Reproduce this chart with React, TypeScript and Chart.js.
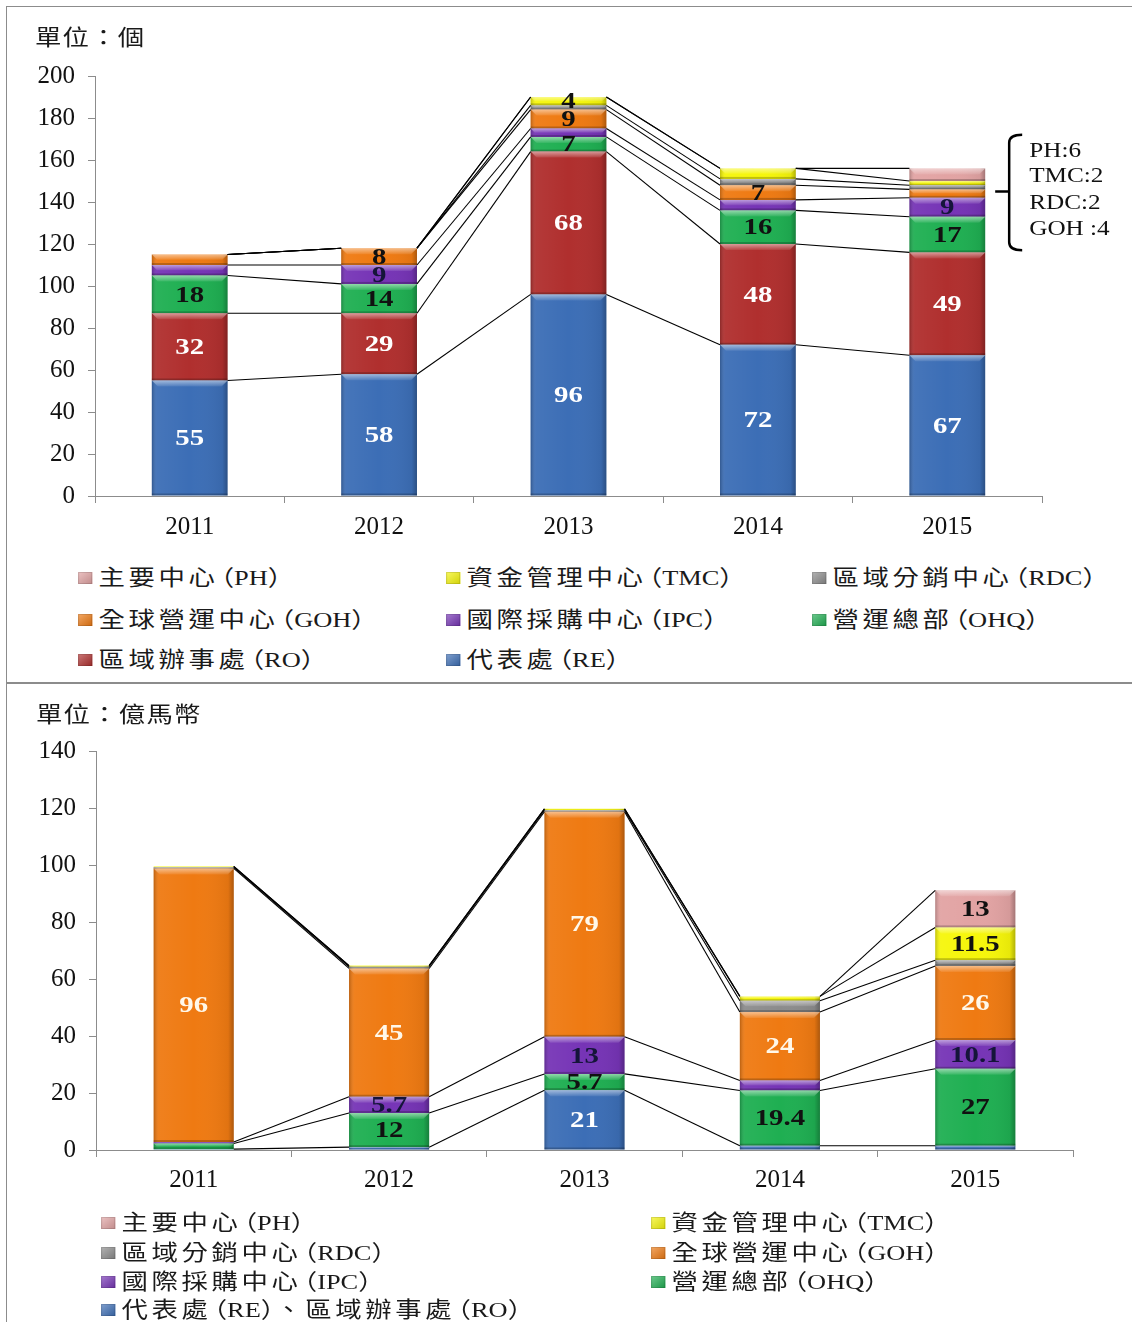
import React, { useEffect, useRef } from "react";
import { Chart, registerables } from "chart.js";

Chart.register(...registerables);

// ---------------- data ----------------
const years = ["2011", "2012", "2013", "2014", "2015"];

// Top chart (單位：個)
const countTicks = [0, 20, 40, 60, 80, 100, 120, 140, 160, 180, 200];
const countRE = [55, 58, 96, 72, 67];
const countRO = [32, 29, 68, 48, 49];
const countOHQ = [18, 14, 7, 16, 17];
const countIPC = [5, 9, 4, 5, 9];
const countGOH = [5, 8, 9, 7, 4];
const countRDC = [0, 0, 2, 3, 2];
const countTMC = [0, 0, 4, 5, 2];
const countPH = [0, 0, 0, 0, 6];

// Bottom chart (單位：億馬幣)
const valueTicks = [0, 20, 40, 60, 80, 100, 120, 140];
const valueRERO = [0.3, 1, 21, 1.5, 1.5];
const valueOHQ = [2, 12, 5.7, 19.4, 27];
const valueIPC = [0.5, 5.7, 13, 3.5, 10.1];
const valueGOH = [96, 45, 79, 24, 26];
const valueRDC = [0.4, 0.6, 0.5, 4, 2];
const valueTMC = [0.3, 0.4, 0.5, 1.5, 11.5];
const valuePH = [0, 0, 0, 0, 13];

const nameRE = "代表處（RE）";
const nameRO = "區域辦事處（RO）";
const nameOHQ = "營運總部（OHQ）";
const nameIPC = "國際採購中心（IPC）";
const nameGOH = "全球營運中心（GOH）";
const nameRDC = "區域分銷中心（RDC）";
const nameTMC = "資金管理中心（TMC）";
const namePH = "主要中心（PH）";
const nameRERO = "代表處（RE）、區域辦事處（RO）";

const topTitle = "單位：個";
const bottomTitle = "單位：億馬幣";

// ---------------- styles ----------------
const COLORS = {
  RE: "#3C6EB6",
  RO: "#B02F2E",
  OHQ: "#1FAF52",
  IPC: "#7634B6",
  GOH: "#EF7A12",
  RDC: "#8C8C8C",
  TMC: "#F6F60A",
  PH: "#E2A3A3",
};
const AXIS = "#8c8c8c";
const SERIF = "'Liberation Serif', 'Times New Roman', serif";
const MIXED = "'Liberation Serif', 'Noto Sans CJK TC', serif";
const SX = 1.2;

type Series = {
  name: string;
  color: string;
  data: number[];
  labelIdx: number[];
  labelColor: string;
};

const topSeries: Series[] = [
  { name: nameRE, color: COLORS.RE, data: countRE, labelIdx: [0, 1, 2, 3, 4], labelColor: "#fff" },
  { name: nameRO, color: COLORS.RO, data: countRO, labelIdx: [0, 1, 2, 3, 4], labelColor: "#fff" },
  { name: nameOHQ, color: COLORS.OHQ, data: countOHQ, labelIdx: [0, 1, 2, 3, 4], labelColor: "#111" },
  { name: nameIPC, color: COLORS.IPC, data: countIPC, labelIdx: [1, 4], labelColor: "#15153a" },
  { name: nameGOH, color: COLORS.GOH, data: countGOH, labelIdx: [1, 2, 3], labelColor: "#111" },
  { name: nameRDC, color: COLORS.RDC, data: countRDC, labelIdx: [], labelColor: "#111" },
  { name: nameTMC, color: COLORS.TMC, data: countTMC, labelIdx: [2], labelColor: "#111" },
  { name: namePH, color: COLORS.PH, data: countPH, labelIdx: [], labelColor: "#111" },
];

const bottomSeries: Series[] = [
  { name: nameRERO, color: COLORS.RE, data: valueRERO, labelIdx: [2], labelColor: "#fff" },
  { name: nameOHQ, color: COLORS.OHQ, data: valueOHQ, labelIdx: [1, 2, 3, 4], labelColor: "#111" },
  { name: nameIPC, color: COLORS.IPC, data: valueIPC, labelIdx: [1, 2, 4], labelColor: "#15153a" },
  { name: nameGOH, color: COLORS.GOH, data: valueGOH, labelIdx: [0, 1, 2, 3, 4], labelColor: "#fff8ea" },
  { name: nameRDC, color: COLORS.RDC, data: valueRDC, labelIdx: [], labelColor: "#111" },
  { name: nameTMC, color: COLORS.TMC, data: valueTMC, labelIdx: [4], labelColor: "#111" },
  { name: namePH, color: COLORS.PH, data: valuePH, labelIdx: [4], labelColor: "#111" },
];

// ---------------- drawing helpers ----------------
function stretchedText(ctx: any, text: string, x: number, y: number, font: string, color: string, align: string) {
  ctx.save();
  ctx.font = font;
  ctx.fillStyle = color;
  ctx.textBaseline = "middle";
  ctx.textAlign = align;
  ctx.translate(x, y);
  ctx.scale(SX, 1);
  ctx.fillText(text, 0, 0);
  ctx.restore();
}

function drawBevel(ctx: any, left: number, top: number, w: number, h: number) {
  if (h < 1) return;
  ctx.save();
  const g = ctx.createLinearGradient(left, 0, left + w, 0);
  g.addColorStop(0, "rgba(0,0,0,0.22)");
  g.addColorStop(0.07, "rgba(255,255,255,0.05)");
  g.addColorStop(0.5, "rgba(255,255,255,0)");
  g.addColorStop(0.93, "rgba(0,0,0,0.06)");
  g.addColorStop(1, "rgba(0,0,0,0.28)");
  ctx.fillStyle = g;
  ctx.fillRect(left, top, w, h);
  const bh = Math.min(6, h / 2);
  const g2 = ctx.createLinearGradient(0, top, 0, top + bh);
  g2.addColorStop(0, "rgba(255,255,255,0.5)");
  g2.addColorStop(1, "rgba(255,255,255,0.08)");
  ctx.fillStyle = g2;
  ctx.beginPath();
  ctx.moveTo(left, top);
  ctx.lineTo(left + w, top);
  ctx.lineTo(left + w - bh, top + bh);
  ctx.lineTo(left + bh, top + bh);
  ctx.closePath();
  ctx.fill();
  const bb = Math.min(2, h / 3);
  ctx.fillStyle = "rgba(0,0,0,0.22)";
  ctx.fillRect(left, top + h - bb, w, bb);
  ctx.restore();
}

function makeDecor(series: Series[], extra?: (chart: any) => void) {
  return {
    id: "stackDecor",
    afterDatasetsDraw(chart: any) {
      const { ctx } = chart;
      const yScale = chart.scales.y;
      const n = chart.data.labels.length;
      const metas = series.map((_, d) => chart.getDatasetMeta(d));
      // bevel shading
      metas.forEach((meta: any) =>
        meta.data.forEach((el: any) => {
          const p = el.getProps(["x", "y", "base", "width"], true);
          const top = Math.min(p.y, p.base);
          drawBevel(ctx, p.x - p.width / 2, top, p.width, Math.abs(p.base - p.y));
        })
      );
      // series lines
      ctx.save();
      ctx.strokeStyle = "#000";
      ctx.lineWidth = 1.1;
      for (let i = 0; i < n - 1; i++) {
        const a = metas[0].data[i].getProps(["x", "width"], true);
        const b = metas[0].data[i + 1].getProps(["x", "width"], true);
        let cumA = 0;
        let cumB = 0;
        series.forEach((s) => {
          cumA += s.data[i];
          cumB += s.data[i + 1];
          ctx.beginPath();
          ctx.moveTo(a.x + a.width / 2, yScale.getPixelForValue(cumA));
          ctx.lineTo(b.x - b.width / 2, yScale.getPixelForValue(cumB));
          ctx.stroke();
        });
      }
      ctx.restore();
      // value labels
      series.forEach((s, d) => {
        s.labelIdx.forEach((i) => {
          const el = metas[d].data[i];
          const p = el.getProps(["x", "y", "base"], true);
          stretchedText(ctx, String(s.data[i]), p.x, (p.y + p.base) / 2 + 1, `bold 24px ${SERIF}`, s.labelColor, "center");
        });
      });
      if (extra) extra(chart);
    },
  };
}

// bracket note on the right of 2015 in the top chart
const bracketNotes = [`PH:${countPH[4]}`, `TMC:${countTMC[4]}`, `RDC:${countRDC[4]}`, `GOH :${countGOH[4]}`];
function drawBracket(chart: any) {
  const { ctx } = chart;
  const y = chart.scales.y;
  const el = chart.getDatasetMeta(0).data[4].getProps(["x", "width"], true);
  const bx = el.x + el.width / 2 + 24;
  const yTop = y.getPixelForValue(172);
  const yBot = y.getPixelForValue(117);
  const yMid = y.getPixelForValue(145);
  ctx.save();
  ctx.strokeStyle = "#000";
  ctx.lineWidth = 2.5;
  ctx.beginPath();
  ctx.moveTo(bx + 13, yTop);
  ctx.quadraticCurveTo(bx, yTop, bx, yTop + 8);
  ctx.lineTo(bx, yBot - 8);
  ctx.quadraticCurveTo(bx, yBot, bx + 13, yBot);
  ctx.stroke();
  ctx.beginPath();
  ctx.moveTo(bx, yMid);
  ctx.lineTo(bx - 14, yMid);
  ctx.stroke();
  ctx.restore();
  const rows = [164, 152, 139.5, 126.7];
  bracketNotes.forEach((t, k) => {
    stretchedText(ctx, t, bx + 20, y.getPixelForValue(rows[k]), `21px ${SERIF}`, "#111", "left");
  });
}

type Spec = {
  series: Series[];
  ticks: number[];
  top: number;
  w: number;
  h: number;
  padding: { left: number; right: number; top: number; bottom: number };
  yAxisW: number;
  xAxisH: number;
  xPad: number;
  barPct: number;
  extra?: (chart: any) => void;
};

function buildConfig(spec: Spec): any {
  const tickFont = { family: SERIF, size: 25 };
  return {
    type: "bar",
    data: {
      labels: years,
      datasets: spec.series.map((s) => ({
        label: s.name,
        data: s.data,
        backgroundColor: s.color,
        borderWidth: 0,
        barPercentage: spec.barPct,
        categoryPercentage: 1,
        stack: "all",
      })),
    },
    options: {
      responsive: false,
      maintainAspectRatio: false,
      animation: false,
      devicePixelRatio: 1,
      events: [],
      layout: { padding: spec.padding },
      plugins: { legend: { display: false }, tooltip: { enabled: false }, title: { display: false } },
      scales: {
        x: {
          stacked: true,
          offset: true,
          grid: { offset: true, drawOnChartArea: false, drawTicks: true, tickLength: 7, color: AXIS },
          border: { display: true, color: AXIS, width: 1 },
          ticks: { font: tickFont, color: "#111", padding: spec.xPad, maxRotation: 0, autoSkip: false },
          afterFit: (s: any) => {
            s.height = spec.xAxisH;
          },
        },
        y: {
          stacked: true,
          min: spec.ticks[0],
          max: spec.ticks[spec.ticks.length - 1],
          grid: { drawOnChartArea: false, drawTicks: true, tickLength: 7, color: AXIS },
          border: { display: true, color: AXIS, width: 1 },
          ticks: { stepSize: spec.ticks[1] - spec.ticks[0], font: tickFont, color: "#111", padding: 13 },
          afterFit: (s: any) => {
            s.width = spec.yAxisW;
          },
        },
      },
    },
    plugins: [makeDecor(spec.series, spec.extra)],
  };
}

function StackChart({ spec }: { spec: Spec }) {
  const ref = useRef<HTMLCanvasElement | null>(null);
  useEffect(() => {
    const chart = new Chart(ref.current as HTMLCanvasElement, buildConfig(spec));
    return () => chart.destroy();
  }, []);
  return (
    <canvas
      ref={ref}
      width={spec.w}
      height={spec.h}
      style={{ position: "absolute", left: 0, top: spec.top, width: spec.w, height: spec.h }}
    />
  );
}

// ---------------- text helpers (HTML) ----------------
const CJK_RE = /[\u3400-\u9fff\u3001\uff1a]/;
function StretchText({ text }: { text: string }) {
  const nodes: any[] = [];
  let buf = "";
  const flush = () => {
    if (buf) {
      nodes.push(<span key={nodes.length}>{buf}</span>);
      buf = "";
    }
  };
  const chars = Array.from(text);
  chars.forEach((ch, idx) => {
    if (CJK_RE.test(ch)) {
      flush();
      nodes.push(
        <span key={nodes.length} style={{ letterSpacing: 3 }}>
          {ch}
        </span>
      );
    } else if (ch === "（") {
      flush();
      nodes.push(
        <span key={nodes.length} style={{ marginLeft: -9 }}>
          {ch}
        </span>
      );
    } else if (ch === "）" && idx < chars.length - 1) {
      flush();
      nodes.push(
        <span key={nodes.length} style={{ marginRight: -10 }}>
          {ch}
        </span>
      );
    } else {
      buf += ch;
    }
  });
  flush();
  return <>{nodes}</>;
}

function LegendItem({ x, y, color, text }: { x: number; y: number; color: string; text: string }) {
  return (
    <div
      style={{
        position: "absolute",
        left: x,
        top: y - 16,
        height: 32,
        display: "flex",
        alignItems: "center",
        whiteSpace: "nowrap",
        transform: `scaleX(${SX})`,
        transformOrigin: "0 50%",
        fontFamily: MIXED,
        fontSize: 22,
        lineHeight: "32px",
        color: "#1a1a1a",
      }}
    >
      <span
        style={{
          width: 12,
          height: 12,
          marginRight: 5,
          flex: "none",
          background: `linear-gradient(135deg, rgba(255,255,255,0.35), rgba(0,0,0,0.15)), ${color}`,
          boxShadow: "inset 0 0 0 1px rgba(0,0,0,0.12)",
        }}
      />
      <StretchText text={text} />
    </div>
  );
}

function Title({ x, y, text }: { x: number; y: number; text: string }) {
  return (
    <div
      style={{
        position: "absolute",
        left: x,
        top: y - 16,
        height: 32,
        lineHeight: "32px",
        whiteSpace: "nowrap",
        transform: `scaleX(${SX})`,
        transformOrigin: "0 50%",
        fontFamily: MIXED,
        fontSize: 22,
        color: "#1a1a1a",
        letterSpacing: 1,
      }}
    >
      {text}
    </div>
  );
}

const topSpec: Spec = {
  series: topSeries,
  ticks: countTicks,
  top: 0,
  w: 1132,
  h: 560,
  padding: { left: 0, right: 90, top: 76, bottom: 14 },
  yAxisW: 95,
  xAxisH: 50,
  xPad: 9,
  barPct: 0.4,
  extra: drawBracket,
};

const bottomSpec: Spec = {
  series: bottomSeries,
  ticks: valueTicks,
  top: 690,
  w: 1132,
  h: 520,
  padding: { left: 0, right: 59, top: 61, bottom: 14 },
  yAxisW: 96,
  xAxisH: 46,
  xPad: 8,
  barPct: 0.41,
};

const topLegendCols = [78, 446, 812];
const topLegendRows = [578, 620, 660];
const bottomLegendCols = [101, 651];
const bottomLegendRows = [1223, 1253, 1282, 1310];

export default function App() {
  const topLegend = [...topSeries].reverse();
  const bottomLegend = [...bottomSeries].reverse();
  return (
    <div
      style={{
        position: "absolute",
        left: 0,
        top: 0,
        width: 1132,
        height: 1322,
        overflow: "hidden",
        background: "#fff",
      }}
    >
      <div style={{ position: "absolute", left: 6, top: 6, width: 1140, height: 675, border: `1px solid ${AXIS}` }} />
      <div style={{ position: "absolute", left: 6, top: 683, width: 1140, height: 700, border: `1px solid ${AXIS}` }} />
      <StackChart spec={topSpec} />
      <StackChart spec={bottomSpec} />
      <Title x={35} y={38} text={topTitle} />
      <Title x={36} y={715} text={bottomTitle} />
      {topLegend.map((s, k) => (
        <LegendItem
          key={"t" + k}
          x={topLegendCols[k % 3]}
          y={topLegendRows[Math.floor(k / 3)]}
          color={s.color}
          text={s.name}
        />
      ))}
      {bottomLegend.map((s, k) => (
        <LegendItem
          key={"b" + k}
          x={bottomLegendCols[k % 2]}
          y={bottomLegendRows[Math.floor(k / 2)]}
          color={s.color}
          text={s.name}
        />
      ))}
    </div>
  );
}
